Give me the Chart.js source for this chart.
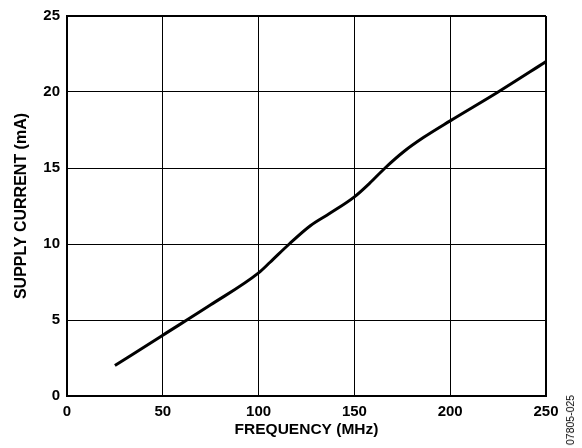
<!DOCTYPE html>
<html>
<head>
<meta charset="utf-8">
<script src="https://cdn.jsdelivr.net/npm/chart.js@4.4.1/dist/chart.umd.min.js"></script>
<style>
  html, body { margin: 0; padding: 0; background: #fff; }
  #wrap { position: relative; width: 582px; height: 448px; }
  #code {
    position: absolute; left: 570px; top: 420px;
    transform: translate(-50%, -50%) rotate(-90deg);
    font: 10.5px "Liberation Sans", Arial, sans-serif; color: #000; white-space: nowrap;
  }
</style>
</head>
<body>
<div id="wrap">
  <canvas id="chart" width="582" height="448"></canvas>
  <div id="code">07805-025</div>
</div>
<script>
// supply current vs frequency
const freq = [25, 50, 75, 100, 106, 116, 127, 137, 150, 158, 166, 176, 186, 200, 225, 250];
const current = [2.0, 4.0, 6.0, 8.1, 8.8, 10.0, 11.2, 12.0, 13.1, 14.0, 15.0, 16.1, 17.0, 18.1, 20.0, 22.0];

const xTicks = [0, 50, 100, 150, 200, 250];
const yTicks = [0, 5, 10, 15, 20, 25];

const points = freq.map((f, i) => ({ x: f, y: current[i] }));
const family = '"Liberation Sans", Arial, sans-serif';
const tickFont = { family: family, size: 15, weight: 'bold' };

new Chart(document.getElementById('chart'), {
    type: 'line',
    data: {
        datasets: [{
            data: points,
            borderColor: '#000',
            borderWidth: 3,
            pointRadius: 0,
            fill: false,
            cubicInterpolationMode: 'monotone'
        }]
    },
    options: {
        responsive: false,
        animation: false,
        layout: { padding: { top: 12, right: 36, left: 0, bottom: 0 } },
        plugins: { legend: { display: false }, tooltip: { enabled: false } },
        scales: {
            x: {
                type: 'linear',
                min: xTicks[0],
                max: xTicks[xTicks.length - 1],
                afterFit: s => { s.height = 52; },
                afterBuildTicks: s => { s.ticks = xTicks.map(v => ({ value: v })); },
                grid: {
                    color: '#000',
                    lineWidth: c => (c.tick && c.tick.value === 250 ? 2 : 1),
                    drawTicks: false
                },
                border: { color: '#000', width: 2 },
                ticks: { color: '#000', font: tickFont, padding: 7, maxRotation: 0 },
                title: {
                    display: true,
                    text: 'FREQUENCY (MHz)',
                    color: '#000',
                    font: { family: family, size: 15.5, weight: 'bold' },
                    padding: { top: 0, bottom: 9 }
                }
            },
            y: {
                min: yTicks[0],
                max: yTicks[yTicks.length - 1],
                afterFit: s => { s.width = 67; },
                afterBuildTicks: s => { s.ticks = yTicks.map(v => ({ value: v })); },
                grid: {
                    color: '#000',
                    lineWidth: c => (c.tick && c.tick.value === 25 ? 2 : 1),
                    drawTicks: false
                },
                border: { color: '#000', width: 2 },
                ticks: { color: '#000', font: tickFont, padding: 7 },
                title: {
                    display: true,
                    text: 'SUPPLY CURRENT (mA)',
                    color: '#000',
                    font: { family: family, size: 16, weight: 'bold' },
                    padding: { top: 12, bottom: 0 }
                }
            }
        }
    }
});
</script>
</body>
</html>
